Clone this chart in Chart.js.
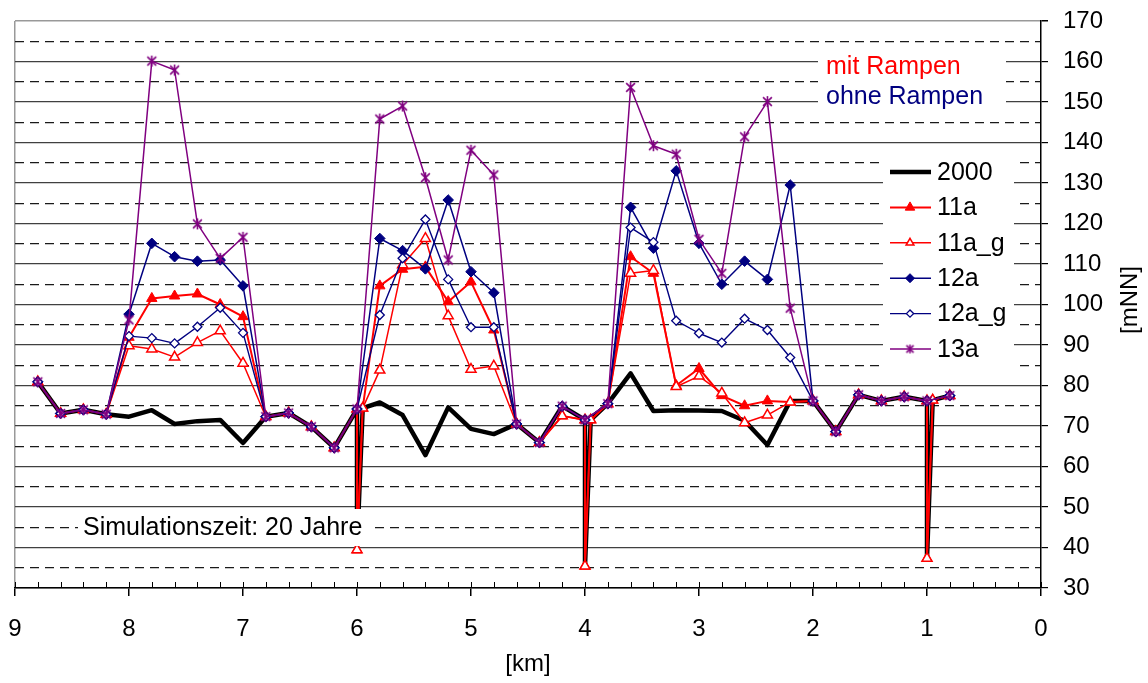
<!DOCTYPE html>
<html><head><meta charset="utf-8">
<script src="https://cdn.jsdelivr.net/npm/chart.js@4.4.0/dist/chart.umd.min.js"></script>
<style>html,body{margin:0;padding:0;background:#fff;}canvas{display:block;}</style>
</head><body>
<canvas id="c" width="1148" height="683"></canvas>
<script>
// ---- data (km along river, water level in mNN) ----
const km = [8.8,8.6,8.4,8.2,8.0,7.8,7.6,7.4,7.2,7.0,6.8,6.6,6.4,6.2,6.0,5.8,5.6,5.4,5.2,5.0,4.8,4.6,4.4,4.2,4.0,3.8,3.6,3.4,3.2,3.0,2.8,2.6,2.4,2.2,2.0,1.8,1.6,1.4,1.2,1.0,0.8];
const s2000 = [80.9,73.1,74.0,72.9,72.3,73.9,70.5,71.2,71.5,65.8,72.3,73.2,69.8,64.6,74.2,75.8,72.7,62.8,74.6,69.3,68.0,70.5,65.9,74.9,71.5,75.5,83.0,73.7,73.9,73.8,73.7,71.3,65.3,76.2,76.2,68.6,77.7,76.2,77.2,76.2,77.5];
const s11a  = [80.9,73.1,74.0,72.9,91.9,101.5,102.1,102.6,100.0,97.0,72.3,73.2,69.8,64.6,74.2,104.6,108.7,109.3,100.7,105.6,93.7,70.5,65.9,72.5,71.5,75.5,111.8,107.7,80.0,84.2,77.5,75.0,76.2,75.9,76.2,68.6,77.7,76.2,77.2,76.2,77.5];
const s11a_g= [80.9,73.1,74.0,72.9,89.8,89.0,87.0,90.6,93.5,85.5,72.3,73.2,69.8,64.6,74.2,83.8,109.8,116.3,97.2,84.0,84.8,70.5,65.9,72.5,71.5,75.5,107.7,108.4,79.7,82.3,78.1,70.8,72.7,75.9,76.2,68.6,77.7,76.2,77.2,76.2,77.5];
const s12a  = [80.9,73.1,74.0,72.9,97.6,115.1,111.8,110.7,111.0,104.6,72.3,73.2,69.8,64.6,74.2,116.3,113.3,108.8,125.8,108.1,102.9,70.5,65.9,74.9,71.5,75.5,124.0,113.9,133.0,115.1,105.0,110.7,106.2,129.5,76.2,68.6,77.7,76.2,77.2,76.2,77.5];
const s12a_g= [80.9,73.1,74.0,72.9,92.2,91.7,90.4,94.5,99.2,93.0,72.3,73.2,69.8,64.6,74.2,97.4,111.4,121.0,106.2,94.4,94.4,70.5,65.9,74.9,71.5,75.5,119.0,115.4,96.0,92.9,90.6,96.5,93.7,86.9,76.2,68.6,77.7,76.2,77.2,76.2,77.5];
const s13a  = [80.9,73.1,74.0,72.9,96.2,160.1,157.9,119.9,111.4,116.6,72.3,73.2,69.8,64.6,74.2,145.8,149.0,131.3,111.0,138.1,132.0,70.5,65.9,74.9,71.5,75.5,153.6,139.2,137.1,116.1,107.7,141.4,150.1,99.1,76.2,68.6,77.7,76.2,77.2,76.2,77.5];
// narrow drops at the weirs (only 2000, 11a, 11a_g)
const spikeKm = [6.0, 4.0, 1.0];
const spikeBottom = [39.4, 35.4, 37.3];
const spikeReturnKm = [5.95, 3.95, 0.95];
const spikeReturn = [74.4, 71.5, 76.4];
const xTicks = [0,1,2,3,4,5,6,7,8,9];

function build(vals, withSpikes){
  const out = [];
  km.forEach((k,i)=>{
    out.push({x:k, y:vals[i]});
    if (withSpikes){
      const j = spikeKm.indexOf(k);
      if (j >= 0){
        out.push({x:spikeKm[j], y:spikeBottom[j]});
        out.push({x:spikeReturnKm[j], y:spikeReturn[j]});
      }
    }
  });
  return out;
}

// asterisk marker (X plus vertical bar), like the spreadsheet "star" marker
function asterisk(size, color, lw){
  const c = document.createElement('canvas');
  c.width = size; c.height = size;
  const g = c.getContext('2d');
  const m = size/2, r = size/2 - 1;
  g.strokeStyle = color; g.lineWidth = lw; g.lineCap = 'butt';
  g.beginPath();
  g.moveTo(m, m-r); g.lineTo(m, m+r);
  g.moveTo(m-r*0.8, m-r*0.8); g.lineTo(m+r*0.8, m+r*0.8);
  g.moveTo(m+r*0.8, m-r*0.8); g.lineTo(m-r*0.8, m+r*0.8);
  g.stroke();
  return c;
}
const starPlot = asterisk(13, '#800080', 1.6);
const starLegend = asterisk(11, '#800080', 1.5);

const FONT = "'Liberation Sans', Arial, sans-serif";
Chart.defaults.font.family = FONT;
Chart.defaults.font.size = 24;
Chart.defaults.color = '#000';

const series = [
  {label:'2000', data:build(s2000,true), borderColor:'#000', borderWidth:4.5, pointRadius:0, pointStyle:false, order:6, lg:{r:0}},
  {label:'11a', data:build(s11a,true), borderColor:'#ff0000', borderWidth:2, pointStyle:'triangle', pointRadius:6, pointBackgroundColor:'#ff0000', pointBorderColor:'#ff0000', pointBorderWidth:1, order:5, lg:{r:5.5, fill:'#ff0000', bw:1}},
  {label:'11a_g', data:build(s11a_g,true), borderColor:'#ff0000', borderWidth:1.5, pointStyle:'triangle', pointRadius:5.8, pointBackgroundColor:'#ffffff', pointBorderColor:'#ff0000', pointBorderWidth:1.5, order:4, lg:{r:4.5, fill:'#fff', bw:1.5}},
  {label:'12a', data:build(s12a,false), borderColor:'#000080', borderWidth:1.5, pointStyle:'rectRot', pointRadius:5.3, pointBackgroundColor:'#000080', pointBorderColor:'#000080', pointBorderWidth:1, order:3, lg:{r:4.5, fill:'#000080', bw:1}},
  {label:'12a_g', data:build(s12a_g,false), borderColor:'#000080', borderWidth:1.4, pointStyle:'rectRot', pointRadius:4.5, pointBackgroundColor:'#ffffff', pointBorderColor:'#000080', pointBorderWidth:1.3, order:2, lg:{r:3.6, fill:'#fff', bw:1.3}},
  {label:'13a', data:build(s13a,false), borderColor:'#800080', borderWidth:1.5, pointStyle:starPlot, pointRadius:6, order:1, lg:{img:starLegend}}
];

const overlay = {
  id:'overlay',
  afterDatasetsDraw(chart){
    const ctx = chart.ctx;
    ctx.save();
    ctx.fillStyle = '#fff';
    ctx.fillRect(818, 55, 188, 56);
    ctx.fillRect(883, 148, 131, 228);
    ctx.fillRect(78, 509, 294, 37);
    ctx.textBaseline = 'middle';
    ctx.textAlign = 'left';
    ctx.font = '25px ' + FONT;
    ctx.fillStyle = '#ff0000'; ctx.fillText('mit Rampen', 826, 67);
    ctx.fillStyle = '#000080'; ctx.fillText('ohne Rampen', 826, 97);
    ctx.fillStyle = '#000'; ctx.fillText('Simulationszeit: 20 Jahre', 83, 528);
    // legend
    series.forEach((s,i)=>{
      const y = 172 + i*35.4;
      ctx.beginPath();
      ctx.strokeStyle = s.borderColor;
      ctx.lineWidth = s.borderWidth;
      ctx.lineCap = 'butt';
      ctx.moveTo(890, y); ctx.lineTo(931, y); ctx.stroke();
      if (s.lg.img){
        ctx.drawImage(s.lg.img, 910 - s.lg.img.width/2, y - s.lg.img.height/2);
      } else if (s.lg.r > 0 && Chart.helpers && Chart.helpers.drawPoint){
        ctx.fillStyle = s.lg.fill; ctx.strokeStyle = s.borderColor; ctx.lineWidth = s.lg.bw;
        Chart.helpers.drawPoint(ctx, {pointStyle:s.pointStyle, radius:s.lg.r, rotation:0, borderWidth:s.lg.bw}, 910, y);
      }
      ctx.fillStyle = '#000';
      ctx.font = '25px ' + FONT;
      ctx.fillText(s.label, 937, y+1);
    });
    ctx.restore();
  },
  afterDraw(chart){
    const ctx = chart.ctx, xs = chart.scales.x, a = chart.chartArea;
    ctx.save();
    ctx.strokeStyle = '#000'; ctx.lineWidth = 1;
    for (let i=0;i<=45;i++){
      const px = Math.round(xs.getPixelForValue(i/5)) + 0.5;
      ctx.beginPath(); ctx.moveTo(px, a.bottom-6); ctx.lineTo(px, a.bottom); ctx.stroke();
    }
    ctx.translate(1130, 300);
    ctx.rotate(-Math.PI/2);
    ctx.textAlign = 'center'; ctx.textBaseline = 'middle';
    ctx.font = '24px ' + FONT; ctx.fillStyle = '#000';
    ctx.fillText('[mNN]', 0, 0);
    ctx.restore();
  }
};

new Chart(document.getElementById('c'), {
  type:'line',
  data:{datasets: series.map(s=>Object.assign({fill:false, tension:0, borderJoinStyle:'round'}, s))},
  options:{
    responsive:false, animation:false, devicePixelRatio:1, events:[],
    layout:{padding:{left:15, top:21, right:0, bottom:0}},
    plugins:{legend:{display:false}, tooltip:{enabled:false}},
    scales:{
      x:{type:'linear', position:'bottom', min:0, max:9, reverse:true,
        afterFit:(s)=>{s.height = 95; s.paddingLeft = 0; s.paddingRight = 0;},
        afterBuildTicks:(s)=>{s.ticks = xTicks.map(v=>({value:v}));},
        ticks:{stepSize:1, padding:19, maxRotation:0, autoSkip:false, font:{size:24}, callback:(v)=>String(v)},
        grid:{drawOnChartArea:true, color:(c)=> (c.tick && c.tick.value===9) ? '#999' : 'rgba(0,0,0,0)', tickLength:8, tickColor:'#000', lineWidth:1.5},
        border:{color:'#000', width:1.5},
        title:{display:true, text:'[km]', font:{size:24}, padding:{top:0, bottom:4}}
      },
      y:{type:'linear', position:'right', min:30, max:170,
        afterFit:(s)=>{s.width = 107; s.paddingTop = 0; s.paddingBottom = 0;},
        ticks:{stepSize:5, padding:15, font:{size:24}, autoSkip:false, callback:(v)=> (v%10===0 ? String(v) : '')},
        grid:{
          color:(c)=>{ if(!c.tick) return '#444'; const v=c.tick.value; return v===170 ? '#999' : (v%10===0 ? '#404040' : '#1a1a1a'); },
          lineWidth:(c)=> (c.tick && c.tick.value===170) ? 1.5 : 1.2, tickLength:7,
          tickColor:(c)=> (c.tick && c.tick.value%10===0) ? '#000' : 'rgba(0,0,0,0)'
        },
        border:{color:'#000', width:1.5, dash:(c)=> (c.tick && c.tick.value%10!==0) ? [9,6] : []}
      }
    }
  },
  plugins:[overlay]
});
</script>
</body></html>
